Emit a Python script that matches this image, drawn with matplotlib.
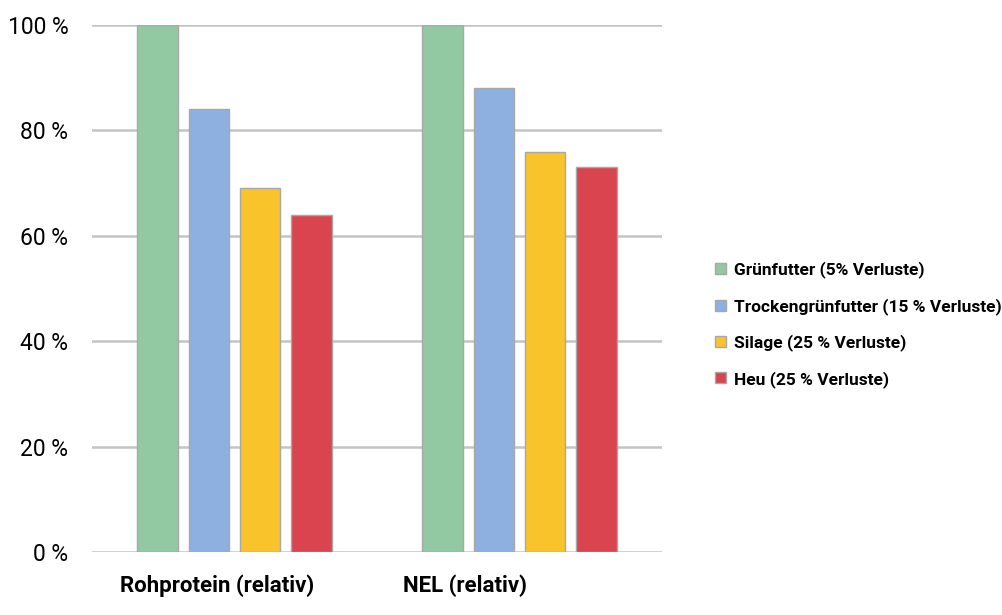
import matplotlib
matplotlib.use("Agg")
import matplotlib.pyplot as plt
import numpy as np

plt.rcParams['font.family'] = ['Roboto', 'DejaVu Sans']

kategorien = ['Rohprotein (relativ)', 'NEL (relativ)']
serien = ['Grünfutter (5% Verluste)', 'Trockengrünfutter (15 % Verluste)',
          'Silage (25 % Verluste)', 'Heu (25 % Verluste)']
werte = [
    [100, 100],  # Grünfutter
    [84, 88],    # Trockengrünfutter
    [69, 76],    # Silage
    [64, 73],    # Heu
]
farben = ['#92c9a2', '#8db0e0', '#f9c32c', '#d9444f']
yticks = [0, 20, 40, 60, 80, 100]

fig = plt.figure(figsize=(10.02, 6.15), dpi=100)
ax = fig.add_axes([0.0918, 0.1024, 0.5689, 0.8569])

x = np.arange(len(kategorien))
abstand = 0.18
breite = 0.142
for i, (name, w, c) in enumerate(zip(serien, werte, farben)):
    ax.bar(x + (i - 1.5) * abstand, w, breite, color=c, edgecolor='#a8a8a8',
           linewidth=1, label=name, zorder=3)

ax.set_xlim(-0.5, 1.5)
ax.set_ylim(0, 100)
ax.set_yticks(yticks)
ax.set_yticklabels([f'{t} %' for t in yticks], fontsize=16.5)
ax.yaxis.grid(True, color='#c4c4c4', linewidth=1.8, zorder=0)
ax.tick_params(axis='y', length=0, pad=17)
ax.set_xticks([])
for s in ax.spines.values():
    s.set_visible(False)

# Kategorienbeschriftung (etwas nach links versetzt wie im Original)
for xpos, txt in zip([-0.06, 0.81], kategorien):
    ax.text(xpos, -4.2, txt, ha='center', va='top', fontsize=16,
            fontweight='bold', transform=ax.transData)

leg = fig.legend(loc='upper left', bbox_to_anchor=(0.707, 0.586), frameon=False,
                 fontsize=12.5, handlelength=0.6, handleheight=0.6,
                 handletextpad=0.45, labelspacing=1.12, borderaxespad=0)
for t in leg.get_texts():
    t.set_fontweight('bold')

fig.savefig('out.png', dpi=100)
